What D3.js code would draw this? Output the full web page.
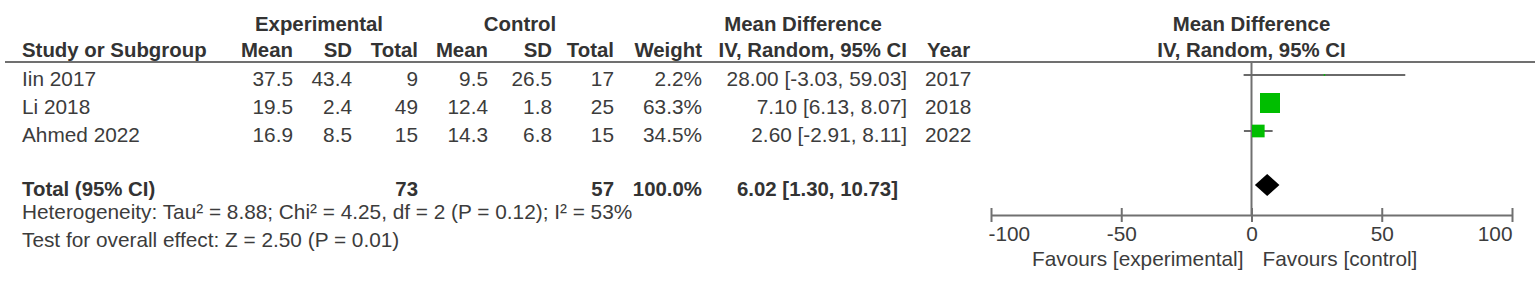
<!DOCTYPE html>
<html><head><meta charset="utf-8">
<script src="https://cdn.jsdelivr.net/npm/d3@7"></script>
<style>
html,body{margin:0;padding:0;background:#fff;}
svg{display:block;font-family:"Liberation Sans",Arial,sans-serif;}
</style></head>
<body><svg id="c" width="1535" height="288"></svg>
<script>
const studies = ["Iin 2017", "Li 2018", "Ahmed 2022"];
const expMean = ["37.5", "19.5", "16.9"];
const expSD = ["43.4", "2.4", "8.5"];
const expTotal = [9, 49, 15];
const ctrlMean = ["9.5", "12.4", "14.3"];
const ctrlSD = ["26.5", "1.8", "6.8"];
const ctrlTotal = [17, 25, 15];
const weights = [2.2, 63.3, 34.5];
const md = [28.00, 7.10, 2.60];
const ciLow = [-3.03, 6.13, -2.91];
const ciHigh = [59.03, 8.07, 8.11];
const years = [2017, 2018, 2022];
const totalExp = 73, totalCtrl = 57, totalWeight = 100.0;
const totalMD = 6.02, totalLow = 1.30, totalHigh = 10.73;
const axisTicks = [-100, -50, 0, 50, 100];
const heterogeneity = "Heterogeneity: Tau² = 8.88; Chi² = 4.25, df = 2 (P = 0.12); I² = 53%";
const overallTest = "Test for overall effect: Z = 2.50 (P = 0.01)";

const svg = d3.select("#c");
const FS = 20.8, FSB = 20.4;
const txt = "#3c3c3c";
const x = d3.scaleLinear().domain([-100, 100]).range([991, 1512]);
const rowY = d3.scaleLinear().domain([0, 1]).range([75, 103]);
const totalY = 185, axisY = 215, headerLineY = 62;
const size = d3.scalePow().exponent(0.75).domain([0, d3.max(weights)]).range([0, 20]);
const f2 = v => v.toFixed(2);

function t(xp, y, s, anchor, bold) {
  return svg.append("text").attr("x", xp).attr("y", y).text(s)
    .attr("text-anchor", anchor || "start").attr("font-size", bold ? FSB : FS)
    .attr("fill", bold ? "#333" : txt).attr("font-weight", bold ? "bold" : "normal");
}

// headers
t(319, 31, "Experimental", "middle", true);
t(520, 31, "Control", "middle", true);
t(803, 31, "Mean Difference", "middle", true);
t(x(0), 31, "Mean Difference", "middle", true);
const H2 = 57;
t(22, H2, "Study or Subgroup", "start", true);
t(293, H2, "Mean", "end", true);
t(352, H2, "SD", "end", true);
t(418, H2, "Total", "end", true);
t(488, H2, "Mean", "end", true);
t(552, H2, "SD", "end", true);
t(614, H2, "Total", "end", true);
t(702, H2, "Weight", "end", true);
t(907, H2, "IV, Random, 95% CI", "end", true);
t(927, H2, "Year", "start", true);
t(x(0), H2, "IV, Random, 95% CI", "middle", true);

svg.append("line").attr("x1", 5).attr("x2", 1535).attr("y1", headerLineY).attr("y2", headerLineY)
  .attr("stroke", "#707070").attr("stroke-width", 2);

// study rows
studies.forEach((s, i) => {
  const by = rowY(i) + 11;
  t(22, by, s, "start");
  t(293, by, expMean[i], "end");
  t(352, by, expSD[i], "end");
  t(418, by, expTotal[i], "end");
  t(488, by, ctrlMean[i], "end");
  t(552, by, ctrlSD[i], "end");
  t(614, by, ctrlTotal[i], "end");
  t(702, by, weights[i].toFixed(1) + "%", "end");
  t(907, by, f2(md[i]) + " [" + f2(ciLow[i]) + ", " + f2(ciHigh[i]) + "]", "end");
  t(925, by, years[i], "start");
});

// total rows
t(22, totalY + 11, "Total (95% CI)", "start", true);
t(418, totalY + 11, totalExp, "end", true);
t(614, totalY + 11, totalCtrl, "end", true);
t(702, totalY + 11, totalWeight.toFixed(1) + "%", "end", true);
t(898, totalY + 11, f2(totalMD) + " [" + f2(totalLow) + ", " + f2(totalHigh) + "]", "end", true);
t(22, 219, heterogeneity, "start");
t(22, 247, overallTest, "start");

// zero line
svg.append("line").attr("x1", x(0)).attr("x2", x(0)).attr("y1", headerLineY).attr("y2", axisY)
  .attr("stroke", "#707070").attr("stroke-width", 2);

// CI lines
svg.selectAll(".ci").data(studies).enter().append("line")
  .attr("x1", (d, i) => x(ciLow[i])).attr("x2", (d, i) => x(ciHigh[i]))
  .attr("y1", (d, i) => rowY(i)).attr("y2", (d, i) => rowY(i))
  .attr("stroke", "#6a6a6a").attr("stroke-width", 2);
// squares
svg.selectAll(".sq").data(studies).enter().append("rect")
  .attr("x", (d, i) => x(md[i]) - size(weights[i]) / 2)
  .attr("y", (d, i) => rowY(i) - size(weights[i]) / 2)
  .attr("width", (d, i) => size(weights[i]))
  .attr("height", (d, i) => size(weights[i]))
  .attr("fill", "#00be00");

// diamond
const dh = 11;
svg.append("path")
  .attr("d", `M${x(totalLow)},${totalY} L${x(totalMD)},${totalY - dh} L${x(totalHigh)},${totalY} L${x(totalMD)},${totalY + dh} Z`)
  .attr("fill", "#000");

// axis
const ax = svg.append("g").attr("transform", `translate(0,${axisY})`)
  .call(d3.axisBottom(x).tickValues(axisTicks).tickFormat(d => String(d)).tickSize(7).tickSizeOuter(0));
ax.select(".domain").attr("stroke", "#707070").attr("stroke-width", 2);
ax.selectAll(".tick line").attr("y1", -7).attr("y2", 7).attr("stroke", "#707070").attr("stroke-width", 2);
ax.selectAll(".tick text").attr("font-size", FS).attr("font-family", "Liberation Sans, Arial, sans-serif")
  .attr("fill", txt).attr("y", 26).attr("dy", 0)
  .attr("text-anchor", (d, i) => i === 0 ? "start" : (i === axisTicks.length - 1 ? "end" : "middle"))
  .attr("dx", (d, i) => i === 0 ? -3 : 0);

t(x(0) - 8, 266, "Favours [experimental]", "end");
t(x(0) + 11, 266, "Favours [control]", "start");
</script></body></html>
